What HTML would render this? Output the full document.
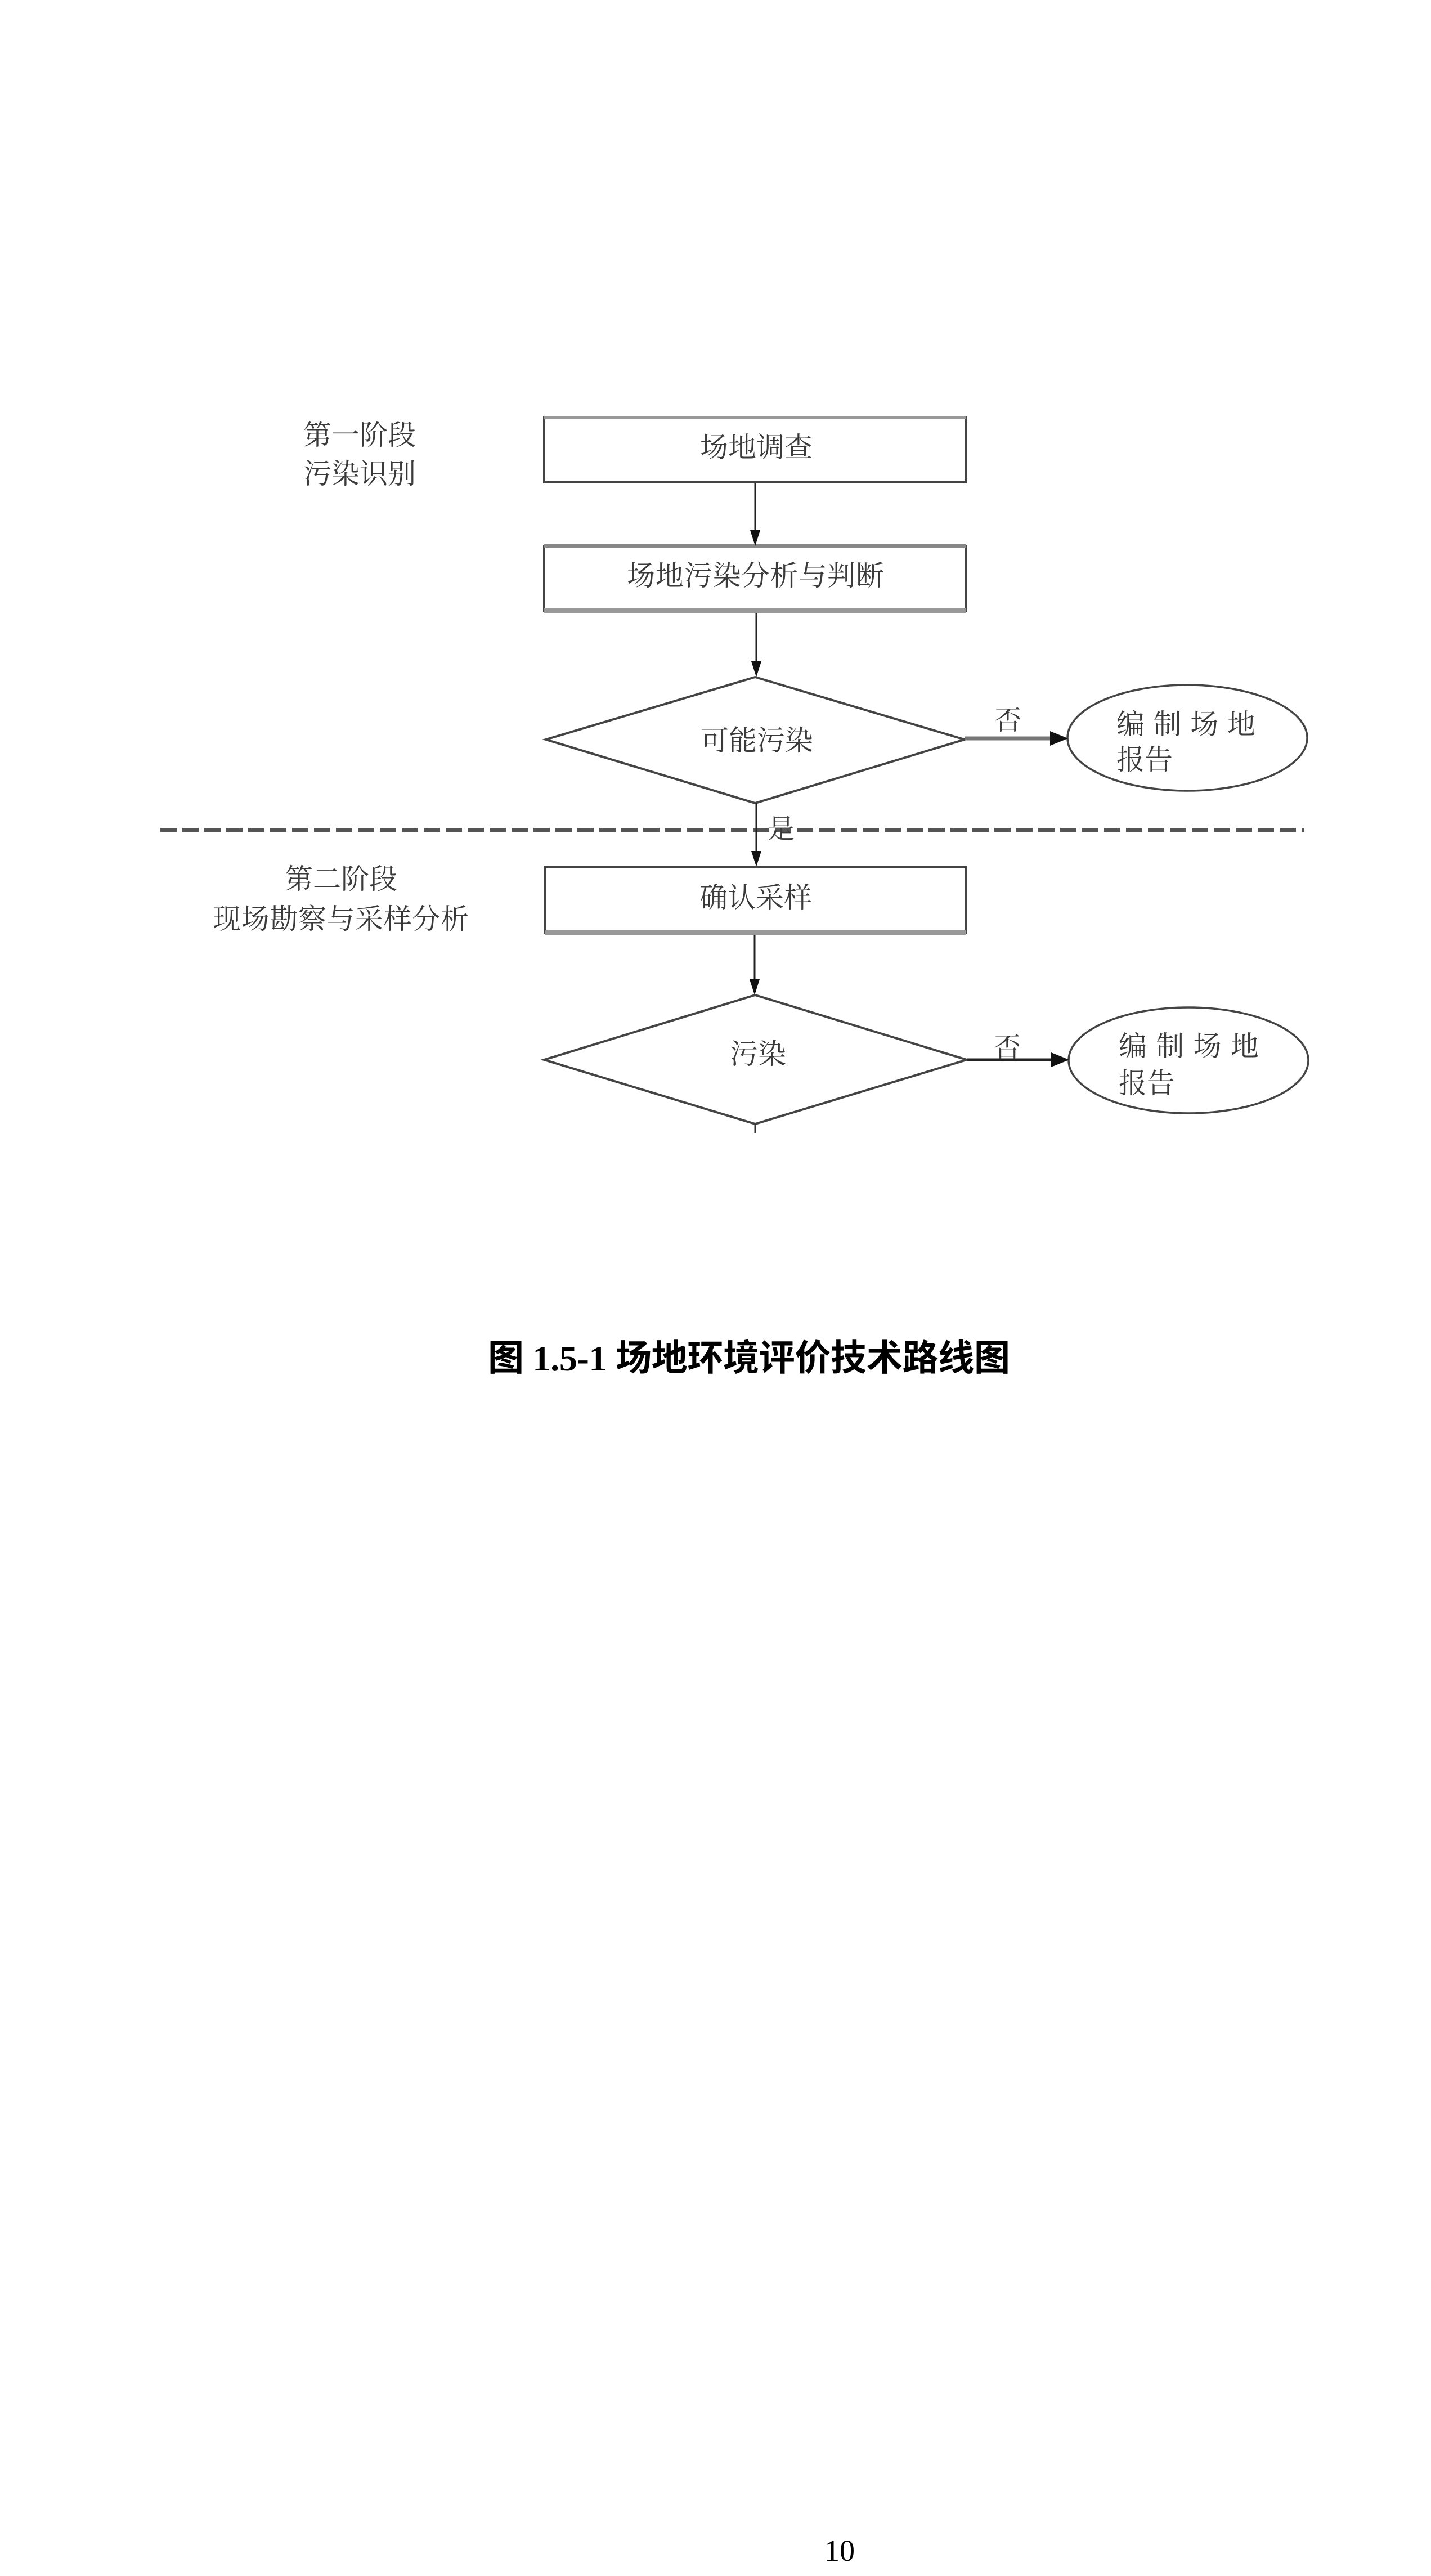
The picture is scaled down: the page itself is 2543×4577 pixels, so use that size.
<!DOCTYPE html>
<html>
<head>
<meta charset="utf-8">
<style>
  html,body{margin:0;padding:0;background:#fff;}
  body{width:2543px;height:4577px;overflow:hidden;}
  svg{display:block;}
  .t{font-family:"Liberation Serif","Noto Serif CJK SC",serif;font-size:50px;fill:#3a3a3a;}
</style>
</head>
<body>
<svg width="2543" height="4577" viewBox="0 0 2543 4577" xmlns="http://www.w3.org/2000/svg">
  <rect x="0" y="0" width="2543" height="4577" fill="#fff"/>

  <!-- Stage labels -->
  <text class="t" x="639" y="790" text-anchor="middle">第一阶段</text>
  <text class="t" x="639" y="859" text-anchor="middle">污染识别</text>
  <text class="t" x="606" y="1579" text-anchor="middle">第二阶段</text>
  <text class="t" x="378" y="1650" textLength="455">现场勘察与采样分析</text>

  <!-- Box 1 -->
  <rect x="967" y="742" width="749" height="115" fill="#fff" stroke="#444" stroke-width="4"/>
  <line x1="967" y1="742" x2="1716" y2="742" stroke="#999" stroke-width="6"/>
  <text class="t" x="1344" y="812" text-anchor="middle">场地调查</text>

  <!-- Box 2 -->
  <rect x="967" y="970" width="749" height="115" fill="#fff" stroke="#444" stroke-width="4"/>
  <line x1="967" y1="970" x2="1716" y2="970" stroke="#888" stroke-width="6"/>
  <line x1="967" y1="1085" x2="1716" y2="1085" stroke="#999" stroke-width="8"/>
  <text class="t" x="1114" y="1040" textLength="457">场地污染分析与判断</text>

  <!-- Diamond 1 -->
  <polygon points="1342,1203 1714,1314 1342,1427 970,1314" fill="#fff" stroke="#444" stroke-width="4"/>
  <text class="t" x="1345" y="1333" text-anchor="middle">可能污染</text>

  <!-- Ellipse 1 -->
  <ellipse cx="2110" cy="1311" rx="213" ry="94" fill="#fff" stroke="#444" stroke-width="3.5"/>
  <text class="t" x="1984" y="1304" textLength="247">编 制 场 地</text>
  <text class="t" x="1984" y="1367">报告</text>

  <!-- No arrow 1 -->
  <line x1="1714" y1="1312" x2="1870" y2="1312" stroke="#777" stroke-width="7"/>
  <polygon points="1866,1299 1898,1312 1866,1325" fill="#111"/>
  <text class="t" x="1791" y="1296" text-anchor="middle" style="font-size:48px">否</text>

  <!-- Dashed separator -->
  <line x1="285" y1="1475" x2="2318" y2="1475" stroke="#555" stroke-width="7" stroke-dasharray="29 10"/>

  <!-- Box 3 -->
  <rect x="968" y="1540" width="749" height="117" fill="#fff" stroke="#444" stroke-width="4"/>
  <line x1="968" y1="1657" x2="1717" y2="1657" stroke="#999" stroke-width="8"/>
  <text class="t" x="1343" y="1612" text-anchor="middle">确认采样</text>

  <!-- Diamond 2 -->
  <polygon points="1342,1768 1718,1883 1342,1997 967,1883" fill="#fff" stroke="#444" stroke-width="4"/>
  <text class="t" x="1347" y="1890" text-anchor="middle">污染</text>
  <line x1="1342" y1="1997" x2="1342" y2="2013" stroke="#333" stroke-width="3"/>

  <!-- Ellipse 2 -->
  <ellipse cx="2112" cy="1884" rx="213" ry="94" fill="#fff" stroke="#444" stroke-width="3.5"/>
  <text class="t" x="1988" y="1876" textLength="249">编 制 场 地</text>
  <text class="t" x="1988" y="1942">报告</text>

  <!-- No arrow 2 -->
  <line x1="1718" y1="1883" x2="1872" y2="1883" stroke="#222" stroke-width="5"/>
  <polygon points="1868,1870 1900,1883 1868,1896" fill="#111"/>
  <text class="t" x="1790" y="1877" text-anchor="middle" style="font-size:48px">否</text>

  <!-- Vertical connectors -->
  <line x1="1342" y1="859" x2="1342" y2="945" stroke="#222" stroke-width="3"/>
  <polygon points="1333,942 1351,942 1342,970" fill="#111"/>

  <line x1="1344" y1="1089" x2="1344" y2="1178" stroke="#222" stroke-width="3"/>
  <polygon points="1335,1175 1353,1175 1344,1203" fill="#111"/>

  <line x1="1344" y1="1427" x2="1344" y2="1515" stroke="#222" stroke-width="3"/>
  <polygon points="1335,1512 1353,1512 1344,1540" fill="#111"/>
  <text class="t" x="1388" y="1489" text-anchor="middle" style="font-size:48px">是</text>

  <line x1="1341" y1="1661" x2="1341" y2="1743" stroke="#222" stroke-width="3"/>
  <polygon points="1332,1740 1350,1740 1341,1768" fill="#111"/>

  <!-- Caption -->
  <text x="867" y="2435" textLength="928" style="font-family:'Liberation Serif','Noto Sans CJK SC',sans-serif;font-size:64px;font-weight:bold;fill:#000">图 1.5-1 场地环境评价技术路线图</text>

  <!-- Page number -->
  <text x="1465" y="4550" style="font-family:'Liberation Serif',serif;font-size:54px;fill:#000">10</text>
</svg>
</body>
</html>
